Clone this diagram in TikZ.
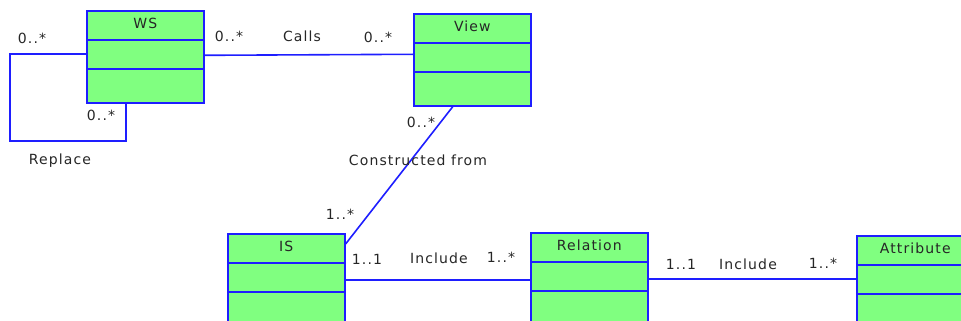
\documentclass[tikz,border=0pt]{standalone}
\usepackage{fontspec}
\setmainfont{DejaVu Sans}[LetterSpace=8]
\usetikzlibrary{calc}
\definecolor{umlblue}{RGB}{30,30,255}
\definecolor{umlgreen}{RGB}{128,255,128}

% class box: name, x, y (top-left), title
\newcommand\umlclass[4]{%
  \node[cls] (#1) at (#2,#3) {};
  \draw[assoc] ([yshift=-30pt]#1.north west) -- ([yshift=-30pt]#1.north east);
  \draw[assoc] ([yshift=-59pt]#1.north west) -- ([yshift=-59pt]#1.north east);
  \node[lbl] (#1-title) at ([yshift=-13.5pt]#1.north) {#4};
}

\begin{document}
\begin{tikzpicture}[x=1pt,y=-1pt,
  cls/.style={draw=umlblue, fill=umlgreen, line width=1.6pt,
    minimum width=117pt, minimum height=92pt, anchor=north west, inner sep=0pt},
  assoc/.style={draw=umlblue, line width=1.6pt},
  lbl/.style={font=\fontsize{14}{16}\selectfont, text=black!85, inner sep=0pt}]
\clip (0,0) rectangle (961,321);

% classes
\umlclass{WS}{86}{10}{WS}
\umlclass{View}{413}{13}{View}
\umlclass{IS}{227}{233}{IS}
\umlclass{Relation}{530}{232}{Relation}
\umlclass{Attribute}{856}{235}{Attribute}

% self association of WS
\coordinate (loopBL) at (10,141);
\draw[assoc] ([yshift=2.5pt]WS.west) -| (loopBL) -| ([xshift=-19.5pt]WS.south);
\node[lbl] (m1) at (32,38) {0..*};
\node[lbl] (m2) at (101,115) {0..*};
\node[lbl] (replace) at (60,161) {Replace};

% WS -- View
\draw[assoc] ([yshift=1.5pt]WS.east) -- ([yshift=5.5pt]View.west);
\node[lbl] (m3) at (229,36) {0..*};
\node[lbl] (calls) at (302,36) {Calls};
\node[lbl] (m4) at (378,37) {0..*};

% View -- IS
\draw[assoc] ([xshift=-19.5pt]View.south) -- ([yshift=-11pt]IS.north east);
\node[lbl] (m5) at (421,122) {0..*};
\node[lbl] (constr) at (418,160) {Constructed from};
\node[lbl] (m6) at (340,214) {1..*};

% IS -- Relation
\draw[assoc] (IS.east) -- (IS.east -| Relation.west);
\node[lbl] (m7) at (367,259) {1..1};
\node[lbl] (inc1) at (439,258) {Include};
\node[lbl] (m8) at (501,257) {1..*};

% Relation -- Attribute
\draw[assoc] (Relation.east) -- (Relation.east -| Attribute.west);
\node[lbl] (m9) at (681,264) {1..1};
\node[lbl] (inc2) at (748,264) {Include};
\node[lbl] (m10) at (823,263) {1..*};
\end{tikzpicture}
\end{document}
